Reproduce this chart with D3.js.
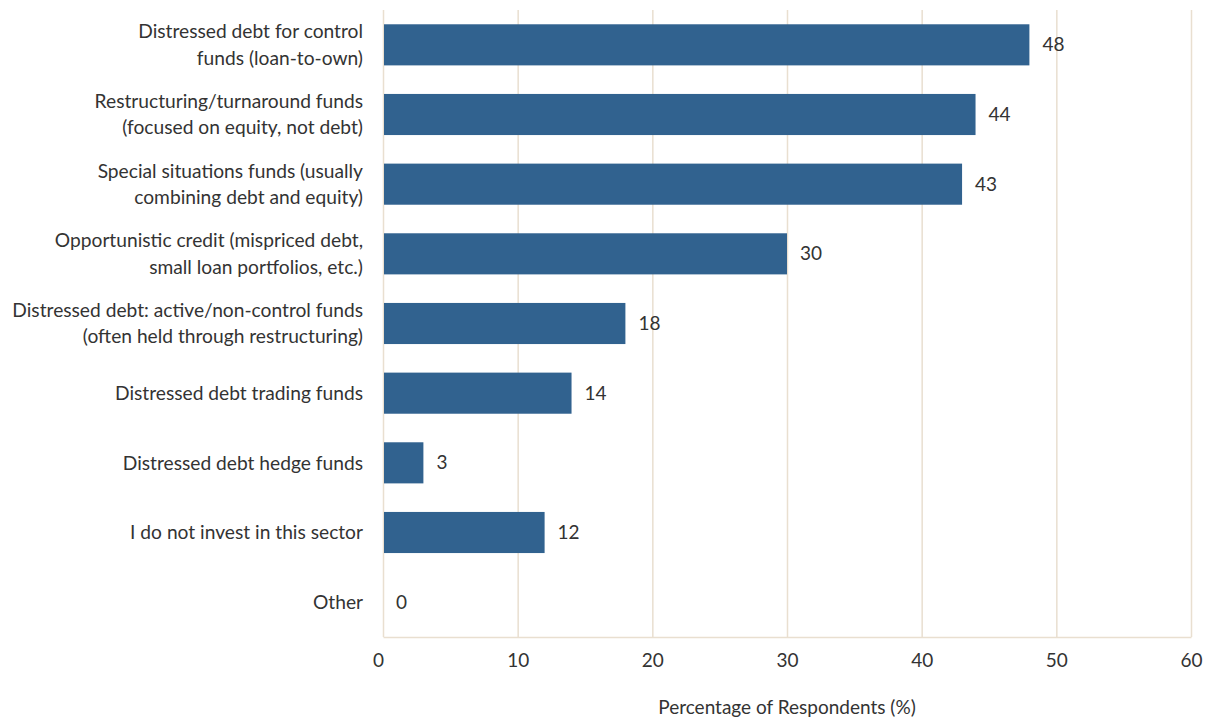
<!DOCTYPE html>
<html>
<head>
<meta charset="utf-8">
<script src="https://cdn.jsdelivr.net/npm/d3@7"></script>
<style>
  body { margin: 0; background: #fff; }
  svg text { font-family: Lato, "Noto Sans", sans-serif; fill: #333; }
</style>
</head>
<body>
<svg id="chart"></svg>
<script>
const categories = [
  ['Distressed debt for control', 'funds (loan-to-own)'],
  ['Restructuring/turnaround funds', '(focused on equity, not debt)'],
  ['Special situations funds (usually', 'combining debt and equity)'],
  ['Opportunistic credit (mispriced debt,', 'small loan portfolios, etc.)'],
  ['Distressed debt: active/non-control funds', '(often held through restructuring)'],
  ['Distressed debt trading funds'],
  ['Distressed debt hedge funds'],
  ['I do not invest in this sector'],
  ['Other']
];
const values = [48, 44, 43, 30, 18, 14, 3, 12, 0];
const xTicks = [0, 10, 20, 30, 40, 50, 60];
const xTitle = 'Percentage of Respondents (%)';

const W = 1222, H = 719;
const margin = { top: 10, right: 31, bottom: 82, left: 383 };
const width = W - margin.left - margin.right;
const height = H - margin.top - margin.bottom;

const svg = d3.select('#chart').attr('width', W).attr('height', H);
const g = svg.append('g').attr('transform', `translate(${margin.left},${margin.top})`);

const x = d3.scaleLinear().domain([0, 60]).range([0, width]);
const y = d3.scaleBand().domain(d3.range(categories.length)).range([0, height]).paddingInner(0.41).paddingOuter(0.205);

// gridlines
g.selectAll('.grid')
  .data(xTicks)
  .enter().append('line')
  .attr('x1', d => x(d) + 0.5).attr('x2', d => x(d) + 0.5)
  .attr('y1', 0).attr('y2', height)
  .attr('stroke', '#e9dfd0').attr('stroke-width', 1.5);

// x axis
const xAxis = g.append('g')
  .attr('transform', `translate(0,${height})`)
  .call(d3.axisBottom(x).tickValues(xTicks).tickSize(0).tickPadding(17));
xAxis.select('.domain').attr('stroke', '#e9dfd0').attr('stroke-width', 1.5);
xAxis.selectAll('text').style('font-size', '19px').attr('fill', '#333')
  .attr('dx', d => d === 0 ? '-5' : 0);

// bars
g.selectAll('.bar')
  .data(values)
  .enter().append('rect')
  .attr('x', x(0) + 1)
  .attr('y', (d, i) => y(i))
  .attr('width', d => Math.max(0, x(d) - x(0) - 1))
  .attr('height', y.bandwidth())
  .attr('fill', '#31628f');

// value labels
g.selectAll('.val')
  .data(values)
  .enter().append('text')
  .attr('x', d => x(d) + 13)
  .attr('y', (d, i) => y(i) + y.bandwidth() / 2)
  .attr('dy', '0.35em')
  .style('font-size', '19px')
  .text(d => d);

// category labels
const lbl = g.selectAll('.cat')
  .data(categories)
  .enter().append('text')
  .attr('text-anchor', 'end')
  .style('font-size', '19.2px')
  .attr('y', (d, i) => y(i) + y.bandwidth() / 2);
lbl.selectAll('tspan')
  .data(d => d.map((t, j) => ({ t, j, n: d.length })))
  .enter().append('tspan')
  .attr('x', -20)
  .attr('dy', d => d.j === 0 ? `${0.35 - (d.n - 1) * 0.68}em` : '1.36em')
  .text(d => d.t);

// axis title
g.append('text')
  .attr('x', width / 2)
  .attr('y', height + 77)
  .attr('text-anchor', 'middle')
  .style('font-size', '19px')
  .text(xTitle);
</script>
</body>
</html>
